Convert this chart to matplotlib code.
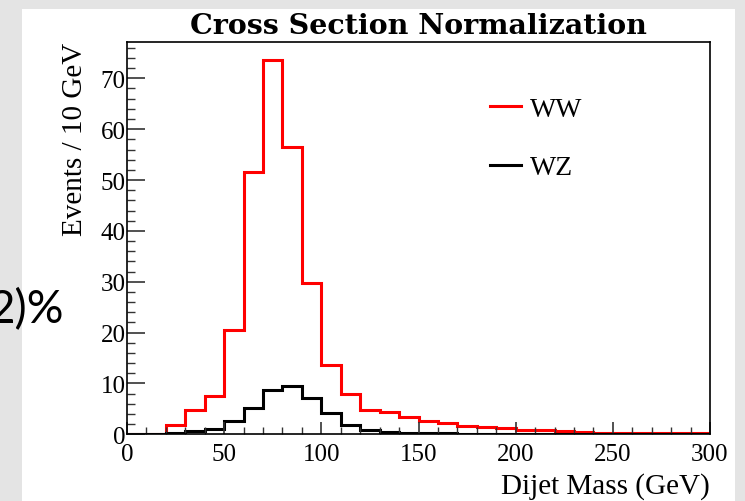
import numpy as np
import matplotlib.pyplot as plt
from matplotlib.patches import Rectangle
from matplotlib.ticker import MultipleLocator

# bin edges, 10 GeV bins from 0 to 300
edges = np.arange(0, 310, 10)

ww = [0, 0, 1.8, 4.7, 7.5, 20.5, 51.5, 73.6, 56.5, 29.7,
      13.6, 7.9, 4.8, 4.3, 3.5, 2.7, 2.3, 1.7, 1.4, 1.3,
      0.9, 0.9, 0.7, 0.4, 0.35, 0.3, 0.3, 0.25, 0.2, 0.2]
wz = [0, 0, 0.3, 0.6, 1.1, 2.7, 5.2, 8.8, 9.4, 7.2,
      4.1, 1.8, 0.8, 0.4, 0.35, 0.3, 0.2, 0.15, 0.15, 0.12,
      0.1, 0.1, 0.1, 0.08, 0.08, 0.06, 0.05, 0.05, 0.05, 0.05]

plt.rcParams['font.family'] = ['Liberation Serif', 'DejaVu Serif']

fig = plt.figure(figsize=(7.45, 5.02), dpi=100)
fig.patch.set_facecolor('#e4e4e4')
# white slide panel behind the plot
panel = Rectangle((22 / 745, 0), 713 / 745, 492 / 502,
                  transform=fig.transFigure, facecolor='white',
                  edgecolor='none', zorder=-5)
fig.add_artist(panel)
# leftover slide text
fig.text(64 / 745, 1 - 310 / 502, '2)%', fontsize=33, family='Lato',
         ha='right', va='center', zorder=-4)

ax = fig.add_axes([127 / 745, 66.7 / 502, 583 / 745, 392.6 / 502])
ax.set_facecolor('white')

ax.stairs(ww, edges, color='#ff0000', linewidth=2.2, label='WW')
ax.stairs(wz, edges, color='black', linewidth=2.2, label='WZ')

ax.set_xlim(0, 300)
ax.set_ylim(0, 77.2)

ax.xaxis.set_major_locator(MultipleLocator(50))
ax.xaxis.set_minor_locator(MultipleLocator(10))
ax.yaxis.set_major_locator(MultipleLocator(10))
ax.yaxis.set_minor_locator(MultipleLocator(2))
ax.tick_params(which='both', direction='in', top=False, right=False,
               labelsize=18, color='#333333')
ax.tick_params(axis='x', which='major', length=9, width=1.2, pad=6)
ax.tick_params(axis='x', which='minor', length=5, width=1)
ax.tick_params(axis='y', which='major', length=13, width=1.2, pad=1)
ax.tick_params(axis='y', which='minor', length=6, width=1)
for s in ax.spines.values():
    s.set_linewidth(1.2)

ax.set_title('Cross Section Normalization', fontsize=20.5, fontweight='bold',
             family='DejaVu Serif', pad=6)
ax.set_xlabel('Dijet Mass (GeV)', fontsize=21, loc='right', labelpad=5)
ax.set_ylabel('Events / 10 GeV', fontsize=21, loc='top', labelpad=9)

ax.legend(loc='upper left', bbox_to_anchor=(0.58, 0.925), frameon=False,
          fontsize=20, handlelength=1.1, handletextpad=0.35,
          labelspacing=1.2)

fig.savefig('out.png', dpi=100)
